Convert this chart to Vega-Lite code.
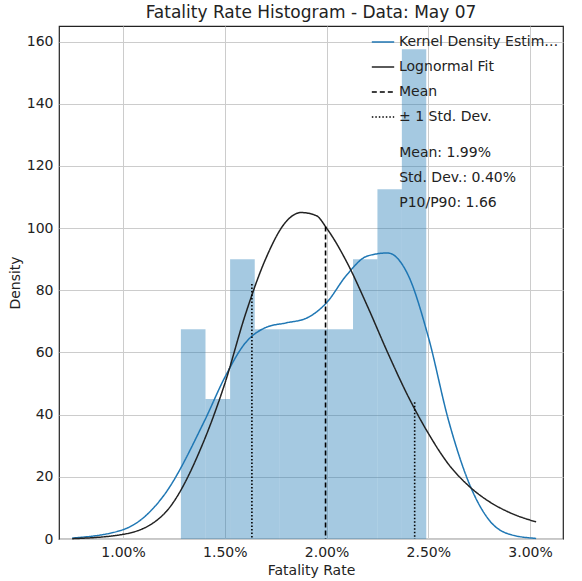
{
  "$schema": "https://vega.github.io/schema/vega-lite/v6.json",
  "width": 504,
  "height": 513,
  "padding": {"left": 8, "top": 4, "right": 8, "bottom": 4},
  "title": {"text": "Fatality Rate Histogram - Data: May 07", "fontSize": 17, "fontWeight": "normal", "font": "DejaVu Sans", "color": "#222", "offset": 4},
  "datasets": {
    "bins": [
      {"x0": 0.01284, "x1": 0.01405, "h": 67.5, "b": 0},
      {"x0": 0.01405, "x1": 0.01526, "h": 45, "b": 0},
      {"x0": 0.01526, "x1": 0.01647, "h": 90, "b": 0},
      {"x0": 0.01647, "x1": 0.01768, "h": 67.5, "b": 0},
      {"x0": 0.01768, "x1": 0.01889, "h": 67.5, "b": 0},
      {"x0": 0.01889, "x1": 0.0201, "h": 67.5, "b": 0},
      {"x0": 0.0201, "x1": 0.0213, "h": 67.5, "b": 0},
      {"x0": 0.0213, "x1": 0.0225, "h": 90, "b": 0},
      {"x0": 0.0225, "x1": 0.0237, "h": 112.5, "b": 0},
      {"x0": 0.0237, "x1": 0.0249, "h": 157.5, "b": 0}
    ],
    "curves": [
      {"series": "Kernel Density Estimate", "x": 0.0075, "y": 0.3},
      {"series": "Kernel Density Estimate", "x": 0.01, "y": 3},
      {"series": "Kernel Density Estimate", "x": 0.012, "y": 14},
      {"series": "Kernel Density Estimate", "x": 0.014, "y": 38},
      {"series": "Kernel Density Estimate", "x": 0.015, "y": 52},
      {"series": "Kernel Density Estimate", "x": 0.016, "y": 63},
      {"series": "Kernel Density Estimate", "x": 0.017, "y": 68},
      {"series": "Kernel Density Estimate", "x": 0.018, "y": 69.5},
      {"series": "Kernel Density Estimate", "x": 0.019, "y": 71},
      {"series": "Kernel Density Estimate", "x": 0.02, "y": 76},
      {"series": "Kernel Density Estimate", "x": 0.021, "y": 85},
      {"series": "Kernel Density Estimate", "x": 0.022, "y": 91},
      {"series": "Kernel Density Estimate", "x": 0.023, "y": 92},
      {"series": "Kernel Density Estimate", "x": 0.024, "y": 85},
      {"series": "Kernel Density Estimate", "x": 0.025, "y": 65},
      {"series": "Kernel Density Estimate", "x": 0.026, "y": 38},
      {"series": "Kernel Density Estimate", "x": 0.027, "y": 18},
      {"series": "Kernel Density Estimate", "x": 0.028, "y": 6},
      {"series": "Kernel Density Estimate", "x": 0.029, "y": 1.5},
      {"series": "Kernel Density Estimate", "x": 0.0303, "y": 0.2},
      {"series": "Lognormal Fit", "x": 0.0075, "y": 0.1},
      {"series": "Lognormal Fit", "x": 0.01, "y": 1.5},
      {"series": "Lognormal Fit", "x": 0.012, "y": 8},
      {"series": "Lognormal Fit", "x": 0.014, "y": 32},
      {"series": "Lognormal Fit", "x": 0.015, "y": 50},
      {"series": "Lognormal Fit", "x": 0.016, "y": 72},
      {"series": "Lognormal Fit", "x": 0.017, "y": 90},
      {"series": "Lognormal Fit", "x": 0.018, "y": 102},
      {"series": "Lognormal Fit", "x": 0.01875, "y": 105},
      {"series": "Lognormal Fit", "x": 0.0195, "y": 104},
      {"series": "Lognormal Fit", "x": 0.02, "y": 100},
      {"series": "Lognormal Fit", "x": 0.021, "y": 89},
      {"series": "Lognormal Fit", "x": 0.022, "y": 75},
      {"series": "Lognormal Fit", "x": 0.023, "y": 60},
      {"series": "Lognormal Fit", "x": 0.024, "y": 46},
      {"series": "Lognormal Fit", "x": 0.025, "y": 34},
      {"series": "Lognormal Fit", "x": 0.026, "y": 24},
      {"series": "Lognormal Fit", "x": 0.027, "y": 17},
      {"series": "Lognormal Fit", "x": 0.028, "y": 12},
      {"series": "Lognormal Fit", "x": 0.029, "y": 8.5},
      {"series": "Lognormal Fit", "x": 0.0303, "y": 5.5}
    ],
    "vlines": [
      {"series": "Mean", "x": 0.01995, "y": 100.5, "b": 0},
      {"series": "± 1 Std. Dev.", "x": 0.01633, "y": 82, "b": 0},
      {"series": "± 1 Std. Dev.", "x": 0.02433, "y": 44, "b": 0}
    ],
    "stats": [
      {"x": 0.02357, "y": 124, "t": "Mean: 1.99%"},
      {"x": 0.02357, "y": 116, "t": "Std. Dev.: 0.40%"},
      {"x": 0.02357, "y": 108, "t": "P10/P90: 1.66"}
    ]
  },
  "layer": [
    {
      "data": {"name": "bins"},
      "mark": {"type": "rect", "color": "#1f77b4", "opacity": 0.4},
      "encoding": {
        "x": {"field": "x0", "type": "quantitative", "scale": {"domain": [0.00685, 0.03162], "nice": false},
          "axis": {"values": [0.01, 0.015, 0.02, 0.025, 0.03], "format": ".2%", "title": "Fatality Rate"}},
        "x2": {"field": "x1"},
        "y": {"field": "h", "type": "quantitative", "scale": {"domain": [0, 165], "nice": false},
          "axis": {"values": [0, 20, 40, 60, 80, 100, 120, 140, 160], "title": "Density"}},
        "y2": {"field": "b"}
      }
    },
    {
      "data": {"name": "curves"},
      "mark": {"type": "line", "strokeWidth": 1.5, "interpolate": "monotone"},
      "encoding": {
        "x": {"field": "x", "type": "quantitative"},
        "y": {"field": "y", "type": "quantitative"},
        "color": {"field": "series", "type": "nominal",
          "scale": {"domain": ["Kernel Density Estimate", "Lognormal Fit", "Mean", "± 1 Std. Dev."], "range": ["#1f77b4", "#222222", "#000000", "#000000"]},
          "legend": {"title": null, "orient": "top-right", "labelFontSize": 14, "symbolType": "stroke", "symbolSize": 500, "symbolStrokeWidth": 1.6, "rowPadding": 6, "labelFont": "DejaVu Sans", "labelColor": "#222", "offset": 4}},
        "strokeDash": {"field": "series", "type": "nominal",
          "scale": {"domain": ["Kernel Density Estimate", "Lognormal Fit", "Mean", "± 1 Std. Dev."], "range": [[1, 0], [1, 0], [5, 3], [1.5, 2]]}}
      }
    },
    {
      "data": {"name": "vlines"},
      "mark": {"type": "rule", "strokeWidth": 1.6},
      "encoding": {
        "x": {"field": "x", "type": "quantitative"},
        "y": {"field": "y", "type": "quantitative"},
        "y2": {"field": "b"},
        "color": {"field": "series", "type": "nominal"},
        "strokeDash": {"field": "series", "type": "nominal"}
      }
    },
    {
      "data": {"name": "stats"},
      "mark": {"type": "text", "align": "left", "fontSize": 14, "font": "DejaVu Sans", "color": "#222"},
      "encoding": {
        "x": {"field": "x", "type": "quantitative"},
        "y": {"field": "y", "type": "quantitative"},
        "text": {"field": "t"}
      }
    }
  ],
  "config": {
    "font": "DejaVu Sans",
    "view": {"stroke": "#222", "strokeWidth": 1.2},
    "axis": {"labelFontSize": 14, "titleFontSize": 14, "titleFontWeight": "normal", "labelColor": "#222", "titleColor": "#222", "gridColor": "#cccccc", "domain": false, "ticks": false, "labelPadding": 6},
    "legend": {"padding": 0}
  }
}
